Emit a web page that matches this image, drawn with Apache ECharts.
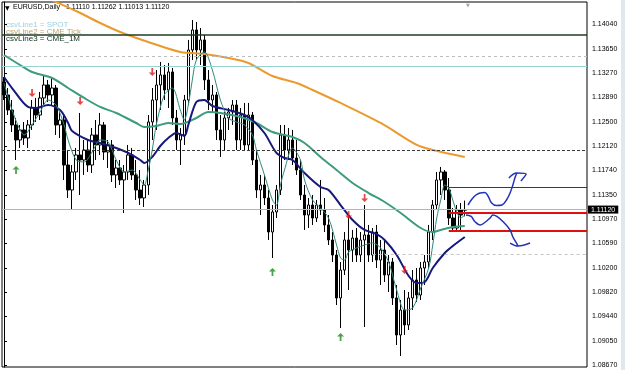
<!DOCTYPE html>
<html>
<head>
<meta charset="utf-8">
<script src="https://cdn.jsdelivr.net/npm/echarts@6/dist/echarts.min.js"></script>
<style>
  html, body { margin: 0; padding: 0; background: #fff; }
  #chart { width: 625px; height: 370px; }
</style>
</head>
<body>
<div id="chart"></div>
<script>
// EURUSD Daily - bars, oldest first
const opens = [
  1.13133, 1.12928, 1.12691, 1.12455, 1.12218, 1.12376, 1.12249, 1.12455, 1.12723, 1.12612,
  1.12881, 1.13086, 1.12928, 1.13038, 1.12455, 1.12533, 1.11823, 1.11429, 1.11713, 1.11981,
  1.11902, 1.12060, 1.11823, 1.12297, 1.12139, 1.12455, 1.12028, 1.12139, 1.11666, 1.11776,
  1.11587, 1.11713, 1.11981, 1.11666, 1.11429, 1.11303, 1.11508, 1.12502, 1.12849, 1.13086,
  1.13244, 1.13007, 1.13291, 1.12565, 1.12218, 1.12297, 1.12849, 1.13638, 1.13954, 1.13638,
  1.13796, 1.13165, 1.12849, 1.12928, 1.12376, 1.12218, 1.12565, 1.12660, 1.12770, 1.12218,
  1.12612, 1.12139, 1.12612, 1.11902, 1.11429, 1.11508, 1.11303, 1.10766, 1.11082, 1.11429,
  1.12297, 1.12060, 1.12218, 1.11934, 1.11744, 1.11350, 1.11034, 1.11192, 1.10987, 1.11192,
  1.11113, 1.10877, 1.10640, 1.10403, 1.09725, 1.10166, 1.10640, 1.10482, 1.10671, 1.10403,
  1.10640, 1.10719, 1.10403, 1.10766, 1.10324, 1.10482, 1.10088, 1.10293, 1.09725, 1.09141,
  1.09535, 1.09299, 1.09725, 1.10009, 1.09772, 1.10198, 1.10293, 1.10766, 1.11192, 1.11587,
  1.11713, 1.11429, 1.10987, 1.10829, 1.11113, 1.11110
]
const highs = [
  1.13212, 1.13038, 1.12849, 1.12565, 1.12455, 1.12502, 1.12533, 1.12849, 1.12881, 1.12975,
  1.13244, 1.13165, 1.13212, 1.13086, 1.12660, 1.12612, 1.12060, 1.11823, 1.12092, 1.12644,
  1.12218, 1.12218, 1.12407, 1.12533, 1.12644, 1.12502, 1.12218, 1.12218, 1.11902, 1.11902,
  1.11823, 1.12139, 1.12092, 1.11902, 1.11744, 1.11587, 1.12612, 1.13038, 1.13322, 1.13449,
  1.13401, 1.13433, 1.13354, 1.12691, 1.12407, 1.12928, 1.13796, 1.14111, 1.14080, 1.13985,
  1.13875, 1.13322, 1.13086, 1.12975, 1.12612, 1.12660, 1.12723, 1.12849, 1.12849, 1.12723,
  1.12802, 1.12802, 1.12660, 1.12060, 1.11666, 1.11666, 1.11429, 1.11192, 1.11508, 1.12455,
  1.12455, 1.12407, 1.12376, 1.12218, 1.11902, 1.11508, 1.11303, 1.11350, 1.11271, 1.11587,
  1.11303, 1.11034, 1.10766, 1.10482, 1.10293, 1.10766, 1.11003, 1.10798, 1.10829, 1.10766,
  1.11192, 1.10877, 1.10829, 1.10877, 1.10640, 1.10640, 1.10403, 1.10356, 1.09930, 1.09693,
  1.09851, 1.09819, 1.10166, 1.10198, 1.10293, 1.10403, 1.10877, 1.11271, 1.11713, 1.11792,
  1.11744, 1.11618, 1.11145, 1.11192, 1.11224, 1.11262
]
const lows = [
  1.12849, 1.12612, 1.12344, 1.11902, 1.12092, 1.12139, 1.12092, 1.12376, 1.12502, 1.12533,
  1.12770, 1.12817, 1.12770, 1.12297, 1.12249, 1.11587, 1.11303, 1.11113, 1.11587, 1.11350,
  1.11666, 1.11713, 1.11697, 1.11902, 1.11981, 1.11902, 1.11776, 1.11555, 1.11460, 1.11508,
  1.11066, 1.11587, 1.11587, 1.11271, 1.11192, 1.11161, 1.11350, 1.12218, 1.12376, 1.12691,
  1.12849, 1.12723, 1.12455, 1.12060, 1.11823, 1.12139, 1.12770, 1.13480, 1.13480, 1.13401,
  1.13007, 1.12691, 1.12660, 1.12218, 1.11950, 1.12060, 1.12376, 1.12455, 1.12060, 1.12060,
  1.12060, 1.12060, 1.11823, 1.11303, 1.11034, 1.11192, 1.10640, 1.10356, 1.10987, 1.11350,
  1.11902, 1.11902, 1.11823, 1.11666, 1.11271, 1.10798, 1.10829, 1.10877, 1.10924, 1.11034,
  1.10766, 1.10561, 1.10293, 1.09614, 1.09251, 1.10088, 1.09851, 1.10293, 1.10293, 1.10293,
  1.09267, 1.10293, 1.10293, 1.10198, 1.09930, 1.09977, 1.09819, 1.09614, 1.08983, 1.08809,
  1.09141, 1.09220, 1.09535, 1.09661, 1.09693, 1.09930, 1.10198, 1.10640, 1.11113, 1.11350,
  1.11271, 1.10877, 1.10766, 1.10766, 1.10798, 1.11013
]
const closes = [
  1.12928, 1.12691, 1.12455, 1.12218, 1.12376, 1.12249, 1.12455, 1.12723, 1.12612, 1.12881,
  1.13086, 1.12928, 1.13038, 1.12455, 1.12533, 1.11823, 1.11429, 1.11713, 1.11981, 1.11902,
  1.12060, 1.11823, 1.12297, 1.12139, 1.12455, 1.12028, 1.12139, 1.11666, 1.11776, 1.11587,
  1.11713, 1.11981, 1.11666, 1.11429, 1.11303, 1.11508, 1.12502, 1.12849, 1.13086, 1.13244,
  1.13007, 1.13291, 1.12565, 1.12218, 1.12297, 1.12849, 1.13638, 1.13954, 1.13638, 1.13796,
  1.13165, 1.12849, 1.12928, 1.12376, 1.12218, 1.12565, 1.12660, 1.12770, 1.12218, 1.12612,
  1.12139, 1.12612, 1.11902, 1.11429, 1.11508, 1.11303, 1.10766, 1.11082, 1.11429, 1.12297,
  1.12060, 1.12218, 1.11934, 1.11744, 1.11350, 1.11034, 1.11192, 1.10987, 1.11192, 1.11113,
  1.10877, 1.10640, 1.10403, 1.09725, 1.10166, 1.10640, 1.10482, 1.10671, 1.10403, 1.10640,
  1.10719, 1.10403, 1.10766, 1.10324, 1.10482, 1.10088, 1.10293, 1.09725, 1.09141, 1.09535,
  1.09299, 1.09725, 1.10009, 1.09772, 1.10198, 1.10293, 1.10766, 1.11192, 1.11587, 1.11713,
  1.11429, 1.10987, 1.10829, 1.11113, 1.11034, 1.11120
]
const slotCount = 146 // bars plus the empty space on the right
const priceTicks = ['1.14040', '1.13650', '1.13270', '1.12890', '1.12500', '1.12120', '1.11740',
  '1.11350', '1.10970', '1.10590', '1.10200', '1.09820', '1.09440', '1.09050', '1.08670']

// moving averages, [bar index, price]
const maLong = [[9, 1.14506], [13, 1.14395], [18, 1.14253], [24, 1.14064], [29, 1.13922], [36, 1.13764],
  [44, 1.13606], [50, 1.13575], [56, 1.13512], [61, 1.13433], [67, 1.13228], [73, 1.13117], [77, 1.13007],
  [84, 1.12802], [94, 1.12486], [103, 1.12139], [107, 1.12060], [115, 1.11950]]
const maSlow = [[0, 1.13559], [4, 1.13401], [7, 1.13291], [12, 1.13196], [16, 1.13038], [20, 1.12881],
  [24, 1.12739], [28, 1.12644], [33, 1.12486], [35, 1.12423], [38, 1.12439], [41, 1.12486], [44, 1.12470],
  [48, 1.12565], [51, 1.12660], [54, 1.12644], [59, 1.12581], [63, 1.12486], [67, 1.12344], [72, 1.12265],
  [75, 1.12170], [79, 1.11950], [83, 1.11744], [87, 1.11539], [91, 1.11381], [95, 1.11239], [99, 1.11066],
  [104, 1.10829], [107, 1.10766], [109, 1.10798], [112, 1.10845], [115, 1.10861]]
const maMid = [[0, 1.13212], [2, 1.13038], [6, 1.12739], [8, 1.12723], [11, 1.12770], [14, 1.12691],
  [16, 1.12486], [17, 1.12360], [21, 1.12218], [24, 1.12170], [28, 1.12092], [31, 1.12013], [34, 1.11902],
  [35, 1.11855], [37, 1.11950], [39, 1.12123], [41, 1.12249], [43, 1.12328], [45, 1.12281], [46, 1.12455],
  [48, 1.12817], [50, 1.12849], [52, 1.12754], [56, 1.12691], [60, 1.12612], [62, 1.12533], [65, 1.12328],
  [68, 1.12013], [70, 1.11934], [72, 1.11902], [75, 1.11697], [79, 1.11476], [81, 1.11429], [84, 1.11192],
  [87, 1.10955], [90, 1.10798], [93, 1.10734], [95, 1.10640], [98, 1.10403], [101, 1.10072], [103, 1.09961],
  [105, 1.09977], [107, 1.10198], [110, 1.10435], [112, 1.10545], [115, 1.10687]]
const maFast = [[0, 1.13117], [2, 1.12691], [4, 1.12376], [5, 1.12297], [7, 1.12455], [9, 1.12660],
  [11, 1.12849], [13, 1.12770], [15, 1.12455], [16, 1.12218], [18, 1.11902], [20, 1.11871], [22, 1.12028],
  [24, 1.12218], [26, 1.12186], [28, 1.11902], [30, 1.11713], [32, 1.11744], [34, 1.11587], [35, 1.11508],
  [36, 1.11744], [37, 1.12060], [38, 1.12455], [40, 1.12928], [42, 1.13038], [44, 1.12691], [45, 1.12533],
  [46, 1.12770], [47, 1.13165], [48, 1.13480], [50, 1.13606], [52, 1.13322], [54, 1.12849], [56, 1.12565],
  [58, 1.12502], [60, 1.12455], [62, 1.12297], [63, 1.12060], [65, 1.11666], [67, 1.11271], [68, 1.11192],
  [69, 1.11508], [70, 1.11744], [72, 1.12092], [74, 1.11902], [75, 1.11587], [77, 1.11271], [79, 1.11145],
  [81, 1.10987], [83, 1.10561], [84, 1.10356], [85, 1.10324], [86, 1.10450], [88, 1.10514], [90, 1.10561],
  [92, 1.10593], [94, 1.10514], [96, 1.10293], [98, 1.09851], [100, 1.09535], [102, 1.09567], [104, 1.09882],
  [106, 1.10198], [107, 1.10561], [108, 1.10987], [109, 1.11271], [110, 1.11508], [111, 1.11460],
  [112, 1.11271], [113, 1.11082], [114, 1.10987], [115, 1.11034]]

// signal arrows
const sellArrows = [[7, 1.12959], [19, 1.12833], [37, 1.13291], [86, 1.11034], [90, 1.11303], [100, 1.10166]]
const buyArrows = [[3, 1.11744], [67, 1.10135], [84, 1.09109]]

// hand drawn scenario curves
const drawnUp = [[115.8, 1.11192], [116.8, 1.11287], [117.8, 1.11350], [118.8, 1.11382], [120.0, 1.11389],
  [120.8, 1.11334], [121.7, 1.11224], [122.9, 1.11184], [124.3, 1.11192], [125.4, 1.11271],
  [126.3, 1.11382], [127.0, 1.11508], [127.5, 1.11618], [128.0, 1.11697]]
const drawnUpHead = [[126.0, 1.11618], [128.0, 1.11697], [130.3, 1.11681], [129.0, 1.11571]]
const drawnDown = [[115.3, 1.11034], [116.6, 1.11011], [117.5, 1.10932], [118.8, 1.10877], [120.0, 1.10916],
  [121.3, 1.10987], [122.0, 1.11034], [123.0, 1.11011], [124.5, 1.10932], [126.3, 1.10798],
  [127.0, 1.10687], [127.9, 1.10592], [128.3, 1.10545]]
const drawnDownHead = [[126.3, 1.10592], [128.3, 1.10545], [131.3, 1.10592]]

// horizontal levels
const levelDarkGreen = 1.13882
const levelGrayDash = 1.13532
const levelTeal = 1.13380
const levelBlackDash = 1.12060
const levelPrice = 1.11120
const levelLowDash = 1.10419
const levelBoxTop = 1.11470
const levelBoxMid = 1.11069
const levelBoxLow = 1.10785

const slots = Array.from({ length: slotCount }, (_, i) => String(i))
const candles = opens.map((o, i) => [o, closes[i], lows[i], highs[i]])
const tickValues = priceTicks.map(Number)

const chart = echarts.init(document.getElementById('chart'))

const maLine = (data, color, width) => ({
  type: 'line',
  xAxisIndex: 1,
  data: data,
  smooth: 0.3,
  showSymbol: false,
  silent: true,
  lineStyle: { color: color, width: width },
  z: 3
})

const drawn = (data) => ({
  type: 'line',
  xAxisIndex: 1,
  data: data,
  smooth: 0.4,
  showSymbol: false,
  silent: true,
  clip: false,
  lineStyle: { color: '#2233b8', width: 1.5 },
  z: 5
})

// every level is a segment between two coords on the hidden value x axis
const segment = (fromIdx, value, color, width, type, label) => [
  {
    coord: [fromIdx, value],
    lineStyle: { color: color, width: width, type: type || 'solid' },
    label: label || { show: false }
  },
  { coord: [slotCount - 0.5, value] }
]

chart.setOption({
  animation: false,
  backgroundColor: '#fff',
  grid: {
    left: 2, right: 38, top: 2, bottom: 3,
    show: true, borderColor: '#000', borderWidth: 1, backgroundColor: '#fff'
  },
  xAxis: [
    { type: 'category', data: slots, show: false },
    { type: 'value', min: -0.5, max: slotCount - 0.5, show: false }
  ],
  yAxis: {
    type: 'value',
    position: 'right',
    min: 1.08636,
    max: 1.14395,
    axisLine: { show: true, lineStyle: { color: '#000' } },
    axisTick: { show: true, length: 3, customValues: tickValues, lineStyle: { color: '#000' } },
    axisLabel: {
      customValues: tickValues,
      formatter: (v) => v.toFixed(5),
      color: '#000',
      fontSize: 7,
      fontFamily: 'Liberation Sans',
      margin: 5
    },
    splitLine: { show: false }
  },
  graphic: [
    { type: 'rect', left: 621, top: 0, shape: { width: 4, height: 370 }, style: { fill: '#dfe7ef' } },
    { type: 'text', left: 5, top: 5, style: { text: '▼', fontSize: 6, fontFamily: 'DejaVu Sans', fill: '#000' } },
    { type: 'text', left: 13, top: 4, style: { text: 'EURUSD,Daily', fontSize: 7, fontFamily: 'Liberation Sans', fill: '#000' } },
    { type: 'text', left: 66, top: 4, style: { text: '1.11110 1.11262 1.11013 1.11120', fontSize: 7, fontFamily: 'Liberation Sans', fill: '#000' } },
    { type: 'text', left: 6, top: 21, style: { text: 'csvLine1 = SPOT', fontSize: 8, fontFamily: 'Liberation Sans', fill: '#9dd1dc' } },
    { type: 'text', left: 6, top: 28, style: { text: 'csvLine2 = CME Tick', fontSize: 8, fontFamily: 'Liberation Sans', fill: '#c2a06a' } },
    { type: 'text', left: 6, top: 35, style: { text: 'csvLine3 = CME_1M', fontSize: 8, fontFamily: 'Liberation Sans', fill: '#10301a' } },
    { type: 'text', left: 466, top: 3, style: { text: '▼', fontSize: 5, fontFamily: 'DejaVu Sans', fill: '#a8a8a8' } }
  ],
  series: [
    {
      type: 'candlestick',
      xAxisIndex: 0,
      data: candles,
      barWidth: 3,
      silent: true,
      itemStyle: {
        color: '#fff', color0: '#000',
        borderColor: '#000', borderColor0: '#000', borderWidth: 1
      },
      z: 2
    },
    maLine(maLong, '#eb9a2e', 2),
    maLine(maSlow, '#3d9c7c', 2),
    maLine(maMid, '#16197a', 2),
    maLine(maFast, '#2e8b7a', 1),
    {
      type: 'line',
      xAxisIndex: 1,
      data: [],
      silent: true,
      z: 4,
      markLine: {
        silent: true,
        symbol: ['none', 'none'],
        label: { show: false },
        data: [
          segment(-0.5, levelDarkGreen, '#1f3d24', 1.5),
          segment(-0.5, levelGrayDash, '#bdbdbd', 1, [3, 3]),
          segment(-0.5, levelTeal, '#96d4d4', 1),
          segment(-0.5, levelBlackDash, '#3a3a3a', 1, [3, 2]),
          segment(-0.5, levelPrice, '#b4b4b4', 1, 'solid', {
            show: true, position: 'end', distance: 1,
            formatter: levelPrice.toFixed(5),
            color: '#fff', backgroundColor: '#000',
            fontSize: 7, fontFamily: 'Liberation Sans', padding: [1, 3, 0, 3]
          }),
          segment(92, levelLowDash, '#c4c4c4', 1, [3, 3]),
          segment(111, levelBoxTop, '#8a1a1a', 1),
          segment(111, levelBoxMid, '#e01010', 2),
          segment(111, levelBoxLow, '#e01010', 2)
        ]
      }
    },
    {
      type: 'scatter',
      xAxisIndex: 1,
      data: sellArrows,
      symbol: 'path://M3,0L5,0L5,5L8,5L4,9L0,5L3,5Z',
      symbolSize: [7, 8],
      symbolKeepAspect: false,
      silent: true,
      itemStyle: { color: '#e01818' },
      z: 6
    },
    {
      type: 'scatter',
      xAxisIndex: 1,
      data: buyArrows,
      symbol: 'path://M4,0L8,4L5,4L5,9L3,9L3,4L0,4Z',
      symbolSize: [7, 8],
      symbolKeepAspect: false,
      silent: true,
      itemStyle: { color: '#1c8a1c' },
      z: 6
    },
    drawn(drawnUp),
    drawn(drawnUpHead),
    drawn(drawnDown),
    drawn(drawnDownHead)
  ]
})
</script>
</body>
</html>
